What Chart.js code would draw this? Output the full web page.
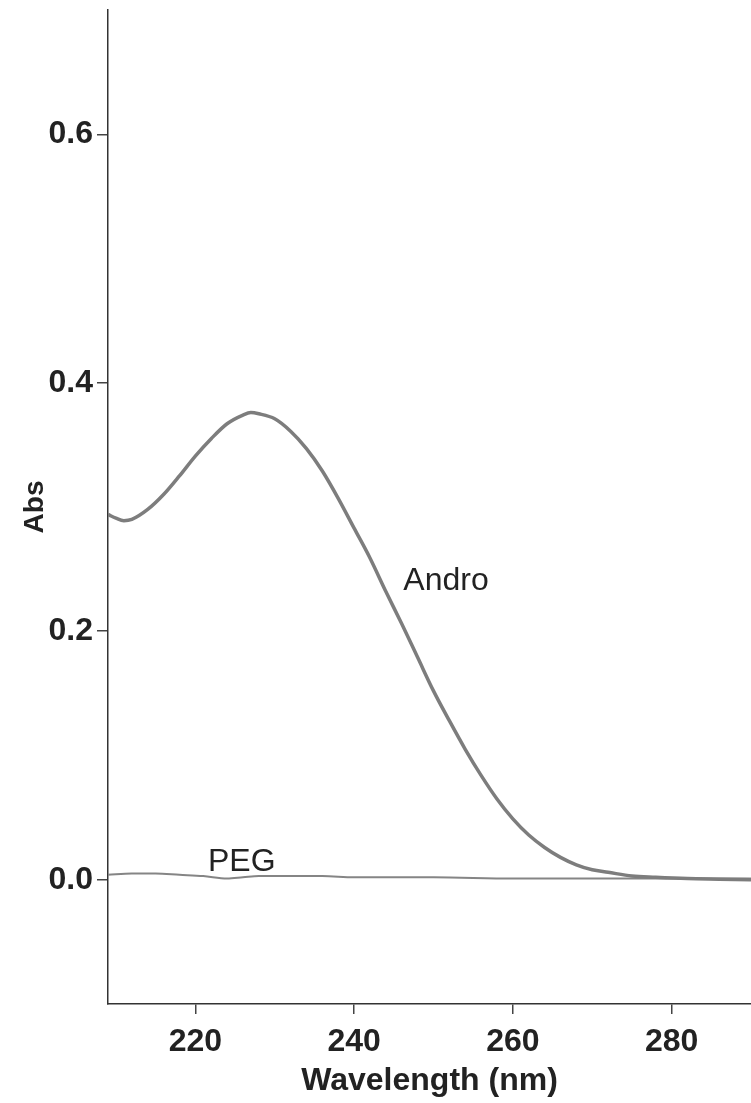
<!DOCTYPE html>
<html>
<head>
<meta charset="utf-8">
<script src="https://cdn.jsdelivr.net/npm/chart.js@4.4.1/dist/chart.umd.min.js"></script>
<style>
  html, body { margin: 0; padding: 0; background: #ffffff; }
  #wrap { width: 751px; height: 1103px; position: relative; }
</style>
</head>
<body>
<div id="wrap"><canvas id="c"></canvas></div>
<script>
// UV absorption spectra (wavelength in nm, absorbance)
const wavelengthAndro = [209, 210, 211, 212, 214, 216, 218, 220, 222, 224, 226, 227, 228, 230, 232, 234, 236, 238, 240, 242, 244, 246, 248, 250, 252, 254, 256, 258, 260, 262, 264, 266, 268, 270, 272, 275, 278, 282, 286, 290];
const absAndro = [0.294, 0.291, 0.289, 0.290, 0.298, 0.310, 0.325, 0.341, 0.355, 0.367, 0.374, 0.376, 0.375, 0.371, 0.361, 0.347, 0.329, 0.307, 0.283, 0.259, 0.232, 0.206, 0.179, 0.152, 0.128, 0.105, 0.084, 0.065, 0.049, 0.036, 0.026, 0.018, 0.012, 0.008, 0.006, 0.003, 0.002, 0.001, 0.0005, 0.0];

const wavelengthPeg = [209, 212, 215, 218, 221, 224, 226, 228, 232, 236, 240, 250, 260, 270, 280, 290];
const absPeg = [0.004, 0.005, 0.005, 0.004, 0.003, 0.001, 0.002, 0.003, 0.003, 0.003, 0.002, 0.002, 0.001, 0.001, 0.001, 0.001];

const xTickValues = [220, 240, 260, 280];
const yTickValues = [0.0, 0.2, 0.4, 0.6];

// In-plot curve names, anchored at (wavelength, absorbance)
const curveLabels = [
  { text: 'Andro', x: 246.2, y: 0.240 },
  { text: 'PEG', x: 221.6, y: 0.014 }
];

const FONT = "'Liberation Sans', Arial, Helvetica, sans-serif";

const curveNames = {
  id: 'curveNames',
  afterDatasetsDraw(chart) {
    const { ctx, scales } = chart;
    ctx.save();
    ctx.font = '32px ' + FONT;
    ctx.fillStyle = '#222222';
    ctx.textAlign = 'left';
    ctx.textBaseline = 'middle';
    curveLabels.forEach(l => {
      ctx.fillText(l.text, scales.x.getPixelForValue(l.x), scales.y.getPixelForValue(l.y));
    });
    ctx.restore();
  }
};

new Chart(document.getElementById('c'), {
  type: 'line',
  data: {
    datasets: [
      {
        label: 'Andro',
        data: wavelengthAndro.map((w, i) => ({ x: w, y: absAndro[i] })),
        borderColor: '#7d7d7d',
        borderWidth: 3.5,
        pointRadius: 0,
        cubicInterpolationMode: 'monotone',
        fill: false
      },
      {
        label: 'PEG',
        data: wavelengthPeg.map((w, i) => ({ x: w, y: absPeg[i] })),
        borderColor: '#858585',
        borderWidth: 2,
        pointRadius: 0,
        cubicInterpolationMode: 'monotone',
        fill: false
      }
    ]
  },
  options: {
    responsive: true,
    maintainAspectRatio: false,
    animation: false,
    devicePixelRatio: 1,
    layout: { padding: { top: 10, left: 0, right: 0, bottom: 0 } },
    plugins: { legend: { display: false }, tooltip: { enabled: false } },
    scales: {
      x: {
        type: 'linear',
        min: 209,
        max: 290,
        afterBuildTicks: s => { s.ticks = xTickValues.map(v => ({ value: v })); },
        afterFit: s => { s.height = 99; s.paddingLeft = 0; s.paddingRight = 0; },
        grid: { drawOnChartArea: false, drawTicks: true, tickLength: 10, color: '#444444', lineWidth: 1.5 },
        border: { display: true, color: '#333333', width: 1.5 },
        ticks: {
          autoSkip: false, maxRotation: 0, padding: 9, color: '#222222',
          font: { family: FONT, size: 32, weight: 'bold' },
          callback: v => String(v)
        },
        title: {
          display: true, text: 'Wavelength (nm)', color: '#222222',
          font: { family: FONT, size: 32, weight: 'bold' },
          padding: { top: 0, bottom: 3 }
        }
      },
      y: {
        type: 'linear',
        min: -0.1,
        max: 0.7,
        afterBuildTicks: s => { s.ticks = yTickValues.map(v => ({ value: v })); },
        afterFit: s => { s.width = 108; s.paddingTop = 0; s.paddingBottom = 0; },
        grid: { drawOnChartArea: false, drawTicks: true, tickLength: 11, color: '#444444', lineWidth: 1.5 },
        border: { display: true, color: '#333333', width: 1.5 },
        ticks: {
          padding: 4, color: '#222222',
          font: { family: FONT, size: 32, weight: 'bold' },
          callback: v => Number(v).toFixed(1)
        },
        title: {
          display: true, text: 'Abs', color: '#222222',
          font: { family: FONT, size: 28, weight: 'bold' },
          padding: { top: 18, bottom: 0 }
        }
      }
    }
  },
  plugins: [curveNames]
});
</script>
</body>
</html>
